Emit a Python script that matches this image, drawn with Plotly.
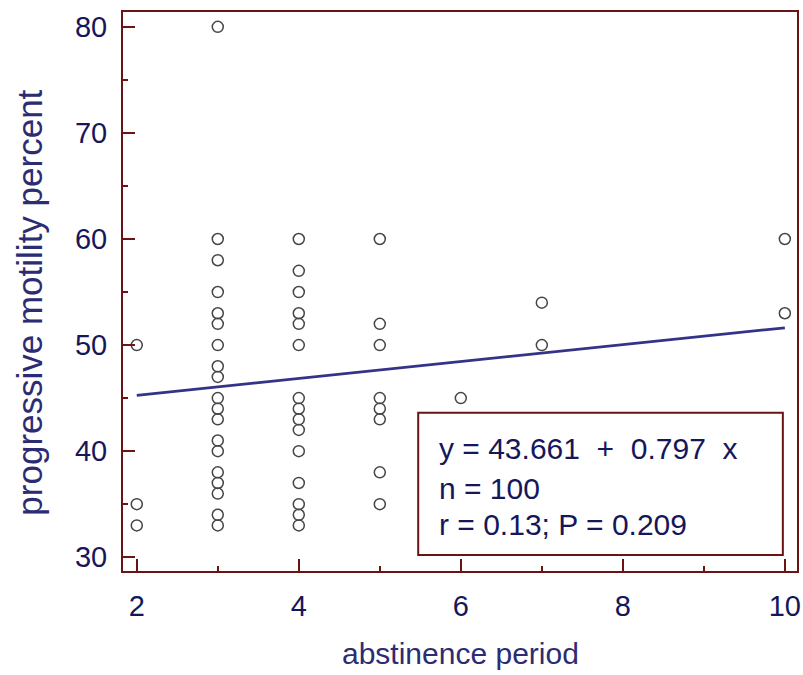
import plotly.graph_objects as go

# Data
abstinence_period = (
    [2, 2, 2]
    + [3] * 19
    + [4] * 15
    + [5] * 8
    + [6]
    + [7, 7]
    + [10, 10]
)
motility_percent = (
    [50, 35, 33]
    + [80, 60, 58, 55, 53, 52, 50, 48, 47, 45, 44, 43, 41, 40, 38, 37, 36, 34, 33]
    + [60, 57, 55, 53, 52, 50, 45, 44, 43, 42, 40, 37, 35, 34, 33]
    + [60, 52, 50, 45, 44, 43, 38, 35]
    + [45]
    + [54, 50]
    + [60, 53]
)

intercept = 43.661
slope = 0.797
fit_x = [2, 10]
fit_y = [intercept + slope * v for v in fit_x]

x_ticks = [2, 4, 6, 8, 10]
y_ticks = [30, 40, 50, 60, 70, 80]

x_title = "abstinence period"
y_title = "progressive motility percent"
stats_lines = ["y = 43.661  +  0.797  x", "n = 100", "r = 0.13; P = 0.209"]

MAROON = "#6a1414"
NAVY = "#16165a"
TITLE_NAVY = "#2c2c74"
FONT = "Liberation Sans, Arial, sans-serif"

fig = go.Figure()
fig.add_trace(go.Scatter(
    x=abstinence_period, y=motility_percent, mode="markers",
    marker=dict(symbol="circle-open", size=11, color="#454545",
                line=dict(width=1.5, color="#454545")),
    showlegend=False, hoverinfo="x+y",
))
fig.add_trace(go.Scatter(
    x=fit_x, y=fit_y, mode="lines",
    line=dict(color="#333388", width=2.8), showlegend=False,
))

fig.update_layout(
    width=803, height=675,
    margin=dict(l=123, r=6, t=12, b=104),
    paper_bgcolor="white", plot_bgcolor="white",
    font=dict(family=FONT, size=29, color=NAVY),
    xaxis=dict(
        range=[1.83, 10.15], tickvals=x_ticks, ticks="inside", ticklen=12,
        tickwidth=2, tickcolor=MAROON, showline=True, linecolor=MAROON,
        linewidth=2, mirror=True, showgrid=False, zeroline=False,
        automargin=False, ticklabelstandoff=8,
        tickfont=dict(size=29, color=NAVY, family=FONT),
        minor=dict(dtick=1, ticks="inside", ticklen=5, tickwidth=1.5,
                   tickcolor=MAROON, showgrid=False),
    ),
    yaxis=dict(
        range=[28.7, 81.4], tickvals=y_ticks, ticks="inside", ticklen=12,
        tickwidth=2, tickcolor=MAROON, showline=True, linecolor=MAROON,
        linewidth=2, mirror=True, showgrid=False, zeroline=False,
        automargin=False, ticklabelstandoff=8,
        tickfont=dict(size=29, color=NAVY, family=FONT),
        minor=dict(dtick=5, ticks="inside", ticklen=5, tickwidth=1.5,
                   tickcolor=MAROON, showgrid=False),
    ),
    shapes=[dict(type="rect", xref="paper", yref="paper",
                 x0=0.438, x1=0.979, y0=0.0286, y1=0.283,
                 line=dict(color=MAROON, width=2), fillcolor="rgba(0,0,0,0)")],
)

# axis titles
fig.add_annotation(text=x_title, xref="paper", yref="paper", x=0.5, y=-0.148,
                   xanchor="center", yanchor="middle", showarrow=False,
                   font=dict(size=30, color=TITLE_NAVY, family=FONT))
fig.add_annotation(text=y_title, xref="paper", yref="paper", x=-0.138, y=0.48,
                   xanchor="center", yanchor="middle", showarrow=False, textangle=-90,
                   font=dict(size=35, color=TITLE_NAVY, family=FONT))

for txt, yp in zip(stats_lines, [0.22, 0.148, 0.084]):
    fig.add_annotation(text=txt, xref="paper", yref="paper", x=0.466, y=yp,
                       xanchor="left", yanchor="middle", showarrow=False,
                       font=dict(size=30, color=NAVY, family=FONT))

fig.write_html("out.html", config={"displayModeBar": False},
               post_script="document.body.style.margin='0';")
